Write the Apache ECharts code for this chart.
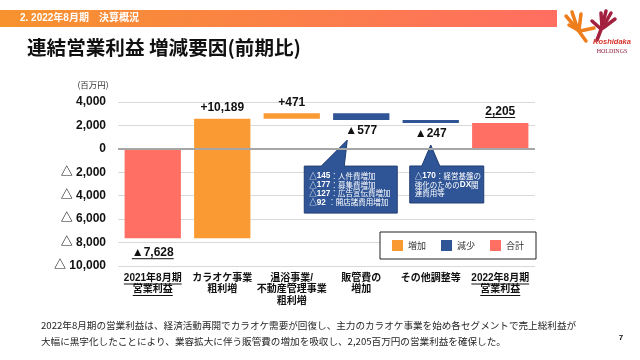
<!DOCTYPE html>
<html><head><meta charset="utf-8">
<script src="https://cdn.jsdelivr.net/npm/echarts@6/dist/echarts.min.js"></script>
<style>html,body{margin:0;padding:0;background:#fff}#c{width:640px;height:360px}</style>
</head><body><div id="c"></div>
<script>
// ---- data ----
const categories = ['2021年8月期\n営業利益', 'カラオケ事業\n粗利増', '温浴事業/\n不動産管理事業\n粗利増', '販管費の\n増加', 'その他調整等', '2022年8月期\n営業利益'];
const stepTypes = ['total', 'increase', 'increase', 'decrease', 'decrease', 'total'];
const stepValues = [-7628, 10189, 471, -577, -247, 2205];
const valueLabels = ['▲7,628', '+10,189', '+471', '▲577', '▲247', '2,205'];
const underlinedCategories = [0, 5];
const yMin = -10000, yMax = 4000, yStep = 2000;
const typeNames = { increase: '増加', decrease: '減少', total: '合計' };
const typeColors = { increase: '#F99A33', decrease: '#2F5597', total: '#FF6F63' };
const callout1 = [['△145', '：人件費増加'], ['△177', '：募集費増加'], ['△127', '：広告宣伝費増加'], ['△92 ', '：開店諸費用増加']];
const callout2 = ['{n|△}{b|170}{n|：経営基盤の}', '{n|強化のための}{b|DX}{n|関}', '{n|連費用等}'];
const bodyLines = ['2022年8月期の営業利益は、経済活動再開でカラオケ需要が回復し、主力のカラオケ事業を始め各セグメントで売上総利益が',
  '大幅に黒字化したことにより、業容拡大に伴う販管費の増加を吸収し、2,205百万円の営業利益を確保した。'];

const FONT = "'Liberation Sans', Arial, 'Noto Sans CJK JP', sans-serif";
const JFONT = "'Noto Sans CJK JP', sans-serif";

// ---- waterfall stacking ----
const n = categories.length;
const base = [], parts = {};
['increase', 'decrease', 'total'].forEach(t => parts[t] = { pos: Array(n).fill('-'), neg: Array(n).fill('-') });
const lows = [], highs = [];
let level = 0;
for (let i = 0; i < n; i++) {
  let from, to;
  if (stepTypes[i] === 'total') { from = 0; to = stepValues[i]; }
  else { from = level; to = level + stepValues[i]; }
  level = to;
  const low = Math.min(from, to), high = Math.max(from, to);
  lows.push(low); highs.push(high);
  const p = parts[stepTypes[i]];
  if (low >= 0) { base.push(low > 0 ? low : '-'); p.pos[i] = high - low; }
  else if (high <= 0) { base.push(high < 0 ? high : '-'); p.neg[i] = low - high; }
  else { base.push('-'); p.pos[i] = high; p.neg[i] = low; }
}
function labelled(arr, t, sign) {
  return arr.map((v, i) => {
    if (v === '-') return v;
    let show = false, pos = 'top';
    if (stepTypes[i] === 'decrease') { show = (sign === 'pos' && lows[i] >= 0) || sign === 'neg'; pos = 'bottom'; }
    else if (stepValues[i] >= 0) { show = sign === 'pos'; pos = 'top'; }
    else { show = sign === 'neg'; pos = 'bottom'; }
    return { value: v, label: { show: show, position: pos, distance: (pos === 'bottom' && stepTypes[i] === 'total') ? 8 : 5,
      formatter: () => valueLabels[i], fontSize: 12, fontWeight: 'bold', color: '#111', fontFamily: FONT } };
  });
}
const series = [{
  name: 'base', type: 'bar', stack: 'w', data: base, itemStyle: { color: 'transparent' },
  barCategoryGap: '19%', silent: true
}];
['increase', 'decrease', 'total'].forEach(t => {
  ['pos', 'neg'].forEach(s => {
    series.push({ name: typeNames[t], type: 'bar', stack: 'w', data: labelled(parts[t][s], t, s),
      itemStyle: { color: typeColors[t] }, barCategoryGap: '19%', silent: true });
  });
});
series[series.length - 1].markLine = {
  silent: true, symbol: ['none', 'none'], label: { show: false },
  lineStyle: { color: '#A6A6A6', width: 2, type: 'solid' }, data: [{ yAxis: 0 }]
};

const chart = echarts.init(document.getElementById('c'), null, { renderer: 'canvas' });
const option = {
  animation: false,
  backgroundColor: '#fff',
  grid: { left: 118, top: 102, width: 417, bottom: 94, containLabel: false },
  legend: {
    data: ['増加', '減少', '合計'], left: 380, top: 232, orient: 'horizontal',
    icon: 'rect', itemWidth: 11, itemHeight: 11, itemGap: 15, padding: [8, 12],
    borderColor: '#222', borderWidth: 1, backgroundColor: '#fff',
    textStyle: { fontSize: 9, color: '#333', fontFamily: JFONT }, selectedMode: false
  },
  xAxis: {
    type: 'category', data: categories,
    axisLine: { show: false }, axisTick: { show: false },
    axisLabel: { interval: 0, fontSize: 10, fontWeight: 'bold', lineHeight: 11.5, margin: 6, color: '#111', fontFamily: FONT, hideOverlap: false }
  },
  yAxis: {
    type: 'value', min: yMin, max: yMax, interval: yStep,
    axisLine: { show: false }, axisTick: { show: false },
    splitLine: { lineStyle: { color: '#D9D9D9', width: 1 } },
    axisLabel: { margin: 12, fontSize: 12, fontWeight: 'bold', color: '#111', fontFamily: FONT,
      formatter: v => v < 0 ? '△ ' + Math.abs(v).toLocaleString('en-US') : v.toLocaleString('en-US') }
  },
  series: series
};
chart.setOption(option);

// ---- annotations ----
const ctx = document.createElement('canvas').getContext('2d');
function tw(text, font) { ctx.font = font; return ctx.measureText(text).width; }
const px = (i, v) => chart.convertToPixel({ seriesIndex: 0 }, [i, v]);

const g = [];
// header
g.push({ type: 'rect', shape: { x: 0, y: 10, width: 557, height: 17 },
  style: { fill: new echarts.graphic.LinearGradient(0, 0, 1, 0, [{ offset: 0, color: '#F7932E' }, { offset: 1, color: '#FF6E61' }]) } });
g.push({ type: 'text', x: 20, y: 18.5, style: { text: '2. 2022年8月期　決算概況', fill: '#fff', fontSize: 10, fontWeight: 'bold', fontFamily: FONT, verticalAlign: 'middle' } });
g.push({ type: 'text', x: 27, y: 48, style: { text: '連結営業利益 増減要因(前期比)', fill: '#111', fontSize: 19.6, fontWeight: 'bold', fontFamily: JFONT, verticalAlign: 'middle' } });
// logo
const orange = '#EE7D1C', maroon = '#A3203F';
[[[586, 41], [578, 30], [566, 16]], [[578, 30], [569, 25]], [[578, 30], [572, 12]], [[579, 30], [581, 14]], [[580, 31], [594, 28]]].forEach(p =>
  g.push({ type: 'polyline', shape: { points: p }, style: { stroke: orange, lineWidth: 3.5, lineCap: 'round', lineJoin: 'round', fill: null } }));
[[[597, 40], [602, 27], [601, 13]], [[602, 27], [606, 11]], [[603, 27], [611, 13]], [[603, 28], [615, 19]], [[601, 29], [592, 21]]].forEach(p =>
  g.push({ type: 'polyline', shape: { points: p }, style: { stroke: maroon, lineWidth: 3.5, lineCap: 'round', lineJoin: 'round', fill: null } }));
g.push({ type: 'text', x: 612, y: 42, style: { text: 'Koshidaka', fill: '#D8322A', fontSize: 7.5, fontWeight: 'bold', fontStyle: 'italic', fontFamily: FONT, align: 'center', verticalAlign: 'middle' } });
g.push({ type: 'text', x: 612, y: 51, style: { text: 'HOLDINGS', fill: '#8B1A3A', fontSize: 6, fontFamily: "'Liberation Serif', serif", align: 'center', verticalAlign: 'middle' } });
// unit
g.push({ type: 'text', x: 93, y: 85, style: { text: '(百万円)', fill: '#333', fontSize: 8.5, fontFamily: JFONT, align: 'center', verticalAlign: 'middle' } });
// body text
bodyLines.forEach((t, k) => g.push({ type: 'text', x: 41, y: 325 + k * 16, style: { text: t, fill: '#262626', fontSize: 9.6, fontFamily: JFONT, verticalAlign: 'middle' } }));
g.push({ type: 'text', x: 621, y: 338, style: { text: '7', fill: '#111', fontSize: 8, fontWeight: 'bold', fontFamily: FONT, align: 'center', verticalAlign: 'middle' } });

// underlines for total labels
const lblFont = 'bold 12px ' + FONT;
for (let i = 0; i < n; i++) {
  if (stepTypes[i] !== 'total') continue;
  const w = tw(valueLabels[i], lblFont);
  if (stepValues[i] >= 0) {
    const p = px(i, highs[i]);
    g.push({ type: 'line', shape: { x1: p[0] - w / 2, y1: p[1] - 5.5, x2: p[0] + w / 2, y2: p[1] - 5.5 }, style: { stroke: '#111', lineWidth: 1 } });
  } else {
    const p = px(i, lows[i]);
    g.push({ type: 'line', shape: { x1: p[0] - w / 2, y1: p[1] + 20.5, x2: p[0] + w / 2, y2: p[1] + 20.5 }, style: { stroke: '#111', lineWidth: 1 } });
  }
}
// underlines for category labels
const catFont = 'bold 10px ' + FONT;
const gridBottom = px(0, yMin)[1];
underlinedCategories.forEach(i => {
  const x = px(i, 0)[0];
  categories[i].split('\n').forEach((line, k) => {
    const w = tw(line, catFont);
    const y = gridBottom + 6 + 11.5 * (k + 1) + 0.5;
    g.push({ type: 'line', shape: { x1: x - w / 2, y1: y, x2: x + w / 2, y2: y }, style: { stroke: '#111', lineWidth: 1 } });
  });
});

// callouts
function callout(tip, box, baseL, baseR, textX, textY, text, rich, lh) {
  const pts = [[box[0], box[1]], [baseL, box[1]], tip, [baseR, box[1]], [box[2], box[1]], [box[2], box[3]], [box[0], box[3]]];
  g.push({ type: 'polygon', shape: { points: pts }, style: { fill: '#2F5597', stroke: '#203D75', lineWidth: 1 } });
  g.push({ type: 'text', x: textX, y: textY, style: { text: text, rich: rich, fill: '#fff', fontSize: 8, lineHeight: lh, fontFamily: JFONT, verticalAlign: 'top' } });
}
const rich = {
  b: { fill: '#fff', fontSize: 8.2, fontWeight: 'bold', fontFamily: FONT, lineHeight: 8.8 },
  n: { fill: '#fff', fontSize: 7.5, fontFamily: JFONT, lineHeight: 8.8 }
};
const t1 = px(3, lows[3]);
const tip1 = [t1[0] - 14, t1[1] + 20];
callout(tip1, [tip1[0] - 43, tip1[1] + 26, tip1[0] + 50, tip1[1] + 73], tip1[0] - 26, tip1[0] - 3,
  tip1[0] - 38, tip1[1] + 31.5,
  callout1.map(l => '{n|△}{b|' + l[0].slice(1) + '}{n|' + l[1] + '}').join('\n'), rich, 8.8);
const t2 = px(4, lows[4]);
const tip2 = [t2[0], t2[1] + 22];
callout(tip2, [tip2[0] - 21, tip2[1] + 21, tip2[0] + 53, tip2[1] + 58], tip2[0] - 9, tip2[0] + 9,
  tip2[0] - 16, tip2[1] + 26.5, callout2.join('\n'), rich, 8.8);

chart.setOption({ graphic: { elements: g } });
</script>
</body></html>
